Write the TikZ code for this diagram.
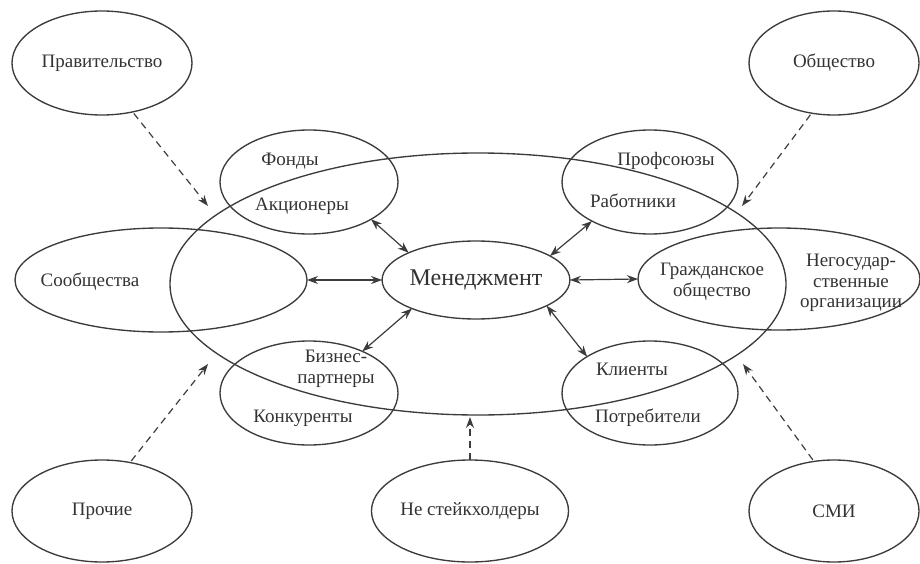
\documentclass[tikz,border=0pt]{standalone}
\usepackage{fontspec}
\setmainfont{Liberation Serif}
\usetikzlibrary{shapes.geometric,arrows.meta}
\definecolor{ln}{HTML}{3C3C3C}
\definecolor{tx}{HTML}{333333}
\begin{document}
\begin{tikzpicture}[x=1pt,y=-1pt,
  ell/.style={draw=ln, line width=1.35pt, ellipse, inner sep=0pt, outer sep=0pt,
    text=tx, font=\fontsize{19}{21}\selectfont},
  lbl/.style={text=tx, font=\fontsize{19}{20.5}\selectfont, inner sep=0pt, align=center},
  biarrow/.style={draw=ln, line width=1.2pt, {Stealth[length=11pt,width=8pt]}-{Stealth[length=11pt,width=8pt]}},
  dasharrow/.style={draw=ln, line width=1.2pt, dash pattern=on 7pt off 5pt, -{Stealth[length=11pt,width=8pt]}}]
\useasboundingbox (0,0) rectangle (920,564);
% outer ellipses
\node[ell, minimum width=180pt, minimum height=104pt] (prav) at (102,63) {Правительство};
\node[ell, minimum width=170pt, minimum height=104pt] (obsh) at (834,63) {Общество};
\node[ell, minimum width=180pt, minimum height=102pt] (proch) at (102,511) {Прочие};
\node[ell, minimum width=176pt, minimum height=102pt] (nest) at (470,511) {Не стейкхолдеры};
\node[ell, minimum width=170pt, minimum height=102pt] (smi) at (834,511) {СМИ};
% big ellipse
\node[ell, minimum width=616pt, minimum height=262pt] (big) at (478,284) {};
% inner ellipses
\node[ell, minimum width=178pt, minimum height=104pt] (fond) at (309,182) {};
\node[lbl] (fondT) at (290,161) {Фонды};
\node[lbl] (akcT) at (302,206) {Акционеры};
\node[ell, minimum width=176pt, minimum height=104pt] (prof) at (650,182) {};
\node[lbl] (profT) at (666,161) {Профсоюзы};
\node[lbl] (rabT) at (633,201) {Работники};
\node[ell, minimum width=292pt, minimum height=104pt] (soob) at (161,280) {};
\node[lbl] (soobT) at (90,282) {Сообщества};
\node[ell, minimum width=183pt, minimum height=78pt, font=\fontsize{24}{26}\selectfont] (men) at (476,280) {Менеджмент};
\node[ell, minimum width=282pt, minimum height=102pt] (grazh) at (779,279) {};
\node[lbl] (grazhT) at (712,282) {Гражданское\\общество};
\node[lbl] (ngoT) at (851,283) {Негосудар-\\ственные\\организации};
\node[ell, minimum width=178pt, minimum height=104pt] (biz) at (309,393) {};
\node[lbl] (bizT) at (336,369) {Бизнес-\\партнеры};
\node[lbl] (konT) at (303,418) {Конкуренты};
\node[ell, minimum width=176pt, minimum height=104pt] (kli) at (650,393) {};
\node[lbl] (kliT) at (632,369) {Клиенты};
\node[lbl] (potT) at (648,418) {Потребители};
% two-way arrows
\draw[biarrow] (fond.-31) -- (men.158);
\draw[biarrow] (soob.east) -- (men.west);
\draw[biarrow] (prof.214) -- (men.18);
\draw[biarrow] (men.east) -- (grazh.west);
\draw[biarrow] (biz.38) -- (men.204);
\draw[biarrow] (men.340) -- (kli.150);
% dashed arrows
\coordinate (c1) at (208,206);
\coordinate (c2) at (742,206);
\coordinate (c3) at (208,364);
\coordinate (c4) at (470,417);
\coordinate (c5) at (743,364);
\draw[dasharrow, shorten <=2pt] (prav.-58) -- (c1);
\draw[dasharrow, shorten <=2pt] (obsh.246) -- (c2);
\draw[dasharrow, shorten <=2pt] (proch.60) -- (c3);
\draw[dasharrow] (nest.north) -- (c4);
\draw[dasharrow, shorten <=2pt] (smi.112) -- (c5);
\end{tikzpicture}
\end{document}
